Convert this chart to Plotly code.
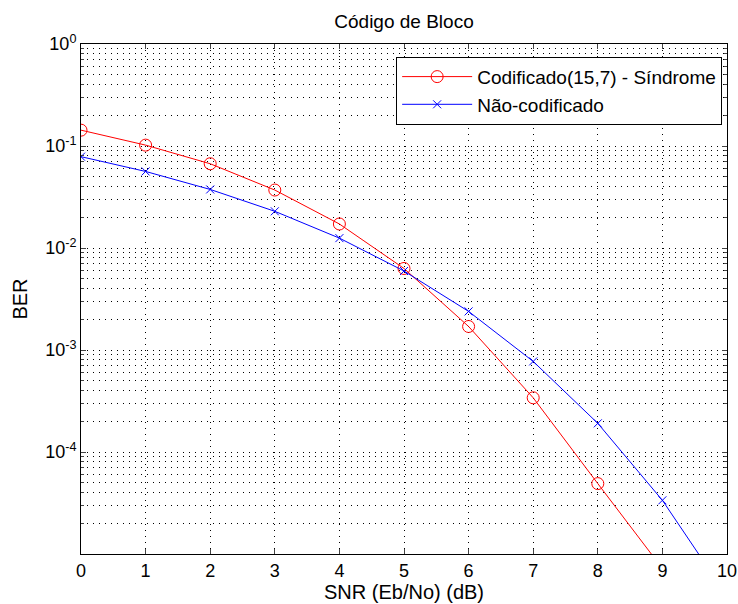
import plotly.graph_objects as go

snr_coded = [0, 1, 2, 3, 4, 5, 6, 7, 8, 9]
ber_coded = [0.143, 0.102, 0.067, 0.037, 0.0172, 0.0063, 0.0017, 3.4e-4, 4.9e-5, 7.2e-6]

snr_uncoded = [0, 1, 2, 3, 4, 5, 6, 7, 8, 9, 10]
ber_uncoded = [0.0786, 0.0563, 0.0375, 0.0229, 0.0125, 0.00595, 0.00239, 7.73e-4, 1.91e-4, 3.36e-5, 3.87e-6]

x_ticks = list(range(0, 11))
y_ticks = [1e-4, 1e-3, 1e-2, 1e-1, 1e0]
y_ticktext = ["10<sup>-4</sup>", "10<sup>-3</sup>", "10<sup>-2</sup>", "10<sup>-1</sup>", "10<sup>0</sup>"]
y_minor = [m * 10 ** e for e in range(-5, 0) for m in range(2, 10)]

fig = go.Figure()
fig.add_trace(go.Scatter(
    x=snr_coded, y=ber_coded, mode="lines+markers",
    name="Codificado(15,7) - Síndrome",
    line=dict(color="red", width=1),
    marker=dict(symbol="circle-open", size=12, color="red", line=dict(width=1)),
))
fig.add_trace(go.Scatter(
    x=snr_uncoded, y=ber_uncoded, mode="lines+markers",
    name="Não-codificado",
    line=dict(color="blue", width=1),
    marker=dict(symbol="x-thin-open", size=8, color="blue", line=dict(width=1, color="blue")),
))

font = "Liberation Sans, Arial, sans-serif"
fig.update_layout(
    width=738, height=604,
    margin=dict(l=81, r=11, t=44, b=50, autoexpand=False),
    paper_bgcolor="white", plot_bgcolor="white",
    font=dict(family=font, size=18, color="black"),
    title=dict(text="Código de Bloco", x=0.5, xref="paper", xanchor="center",
               y=1 - 21 / 604, yanchor="middle", font=dict(size=19)),
    showlegend=True,
    legend=dict(x=0.9925, y=0.975, xanchor="right", yanchor="top",
                bgcolor="white", bordercolor="black", borderwidth=1,
                font=dict(size=19), tracegroupgap=0, itemwidth=70),
)
fig.update_xaxes(
    range=[0, 10], tickvals=x_ticks, ticks="inside", ticklen=5,
    showline=True, linecolor="black", linewidth=1, mirror="allticks",
    showgrid=True, gridcolor="black", griddash="1px,5px", gridwidth=1,
    zeroline=False, tickfont=dict(size=18), automargin=False,
    title=dict(text="SNR (Eb/No) (dB)", font=dict(size=20), standoff=4),
)
fig.update_yaxes(
    type="log", range=[-5, 0], tickvals=y_ticks, ticktext=y_ticktext,
    ticks="inside", ticklen=5,
    showline=True, linecolor="black", linewidth=1, mirror="allticks",
    showgrid=True, gridcolor="black", griddash="1px,5px", gridwidth=1,
    zeroline=False, tickfont=dict(size=18), automargin=False,
    minor=dict(tickvals=y_minor, ticks="inside", ticklen=3, showgrid=True,
               gridcolor="black", griddash="1px,5px", gridwidth=1),
    title=dict(text="BER", font=dict(size=20), standoff=12),
)

fig.write_html("out.html")
